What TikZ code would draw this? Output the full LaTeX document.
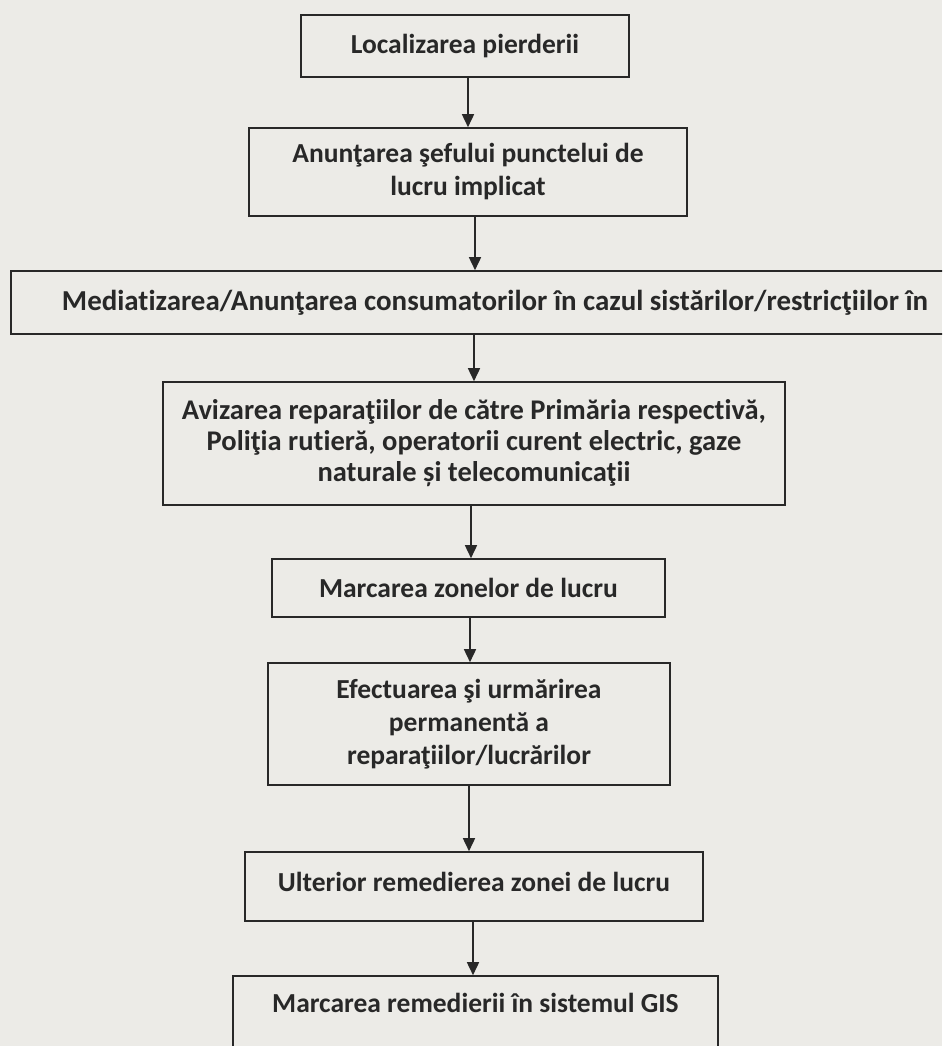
\documentclass[tikz,border=0pt]{standalone}
\usepackage{fontspec}
\setmainfont{Carlito}[Ligatures=NoCommon]
\usetikzlibrary{arrows.meta}
\definecolor{paper}{RGB}{236,235,231}
\definecolor{ink}{RGB}{40,40,40}
\tikzset{
  stepbox/.style={draw=ink, line width=1.6pt, inner sep=0pt, align=center,
    font=\bfseries\fontsize{27.5}{33}\selectfont, text=ink},
  steptext/.style={inner sep=0pt, align=center,
    font=\bfseries\fontsize{27.5}{33}\selectfont, text=ink},
  flow/.style={draw=ink, line width=1.6pt, -{Triangle[length=13pt,width=12pt]}},
}
\begin{document}
\begin{tikzpicture}[x=1pt,y=-1pt]
\useasboundingbox (0,0) rectangle (942,1046);
\clip (0,0) rectangle (942,1046);
\fill[paper] (0,0) rectangle (942,1046);

% process steps
\node[stepbox, minimum width=328, minimum height=62] (b1) at (465,46)
  {Localizarea pierderii};
\node[stepbox, minimum width=438, minimum height=88] (b2) at (468,172)
  {Anunţarea şefului punctelui de\\lucru implicat};
\node[stepbox, minimum width=969, minimum height=63] (b3) at (495.5,302.5) {};
\node[steptext] (t3) at (495,303)
  {\resizebox{866pt}{!}{Mediatizarea/Anunţarea consumatorilor în cazul sistărilor/restricţiilor în}};
\node[stepbox, minimum width=622, minimum height=123,
      font=\bfseries\fontsize{28.5}{31}\selectfont] (b4) at (474,443.5)
  {Avizarea reparaţiilor de către Primăria respectivă,\\
   Poliţia rutieră, operatorii curent electric, gaze\\
   naturale și telecomunicaţii};
\node[stepbox, minimum width=393, minimum height=58] (b5) at (468.5,588)
  {Marcarea zonelor de lucru};
\node[stepbox, minimum width=402, minimum height=122] (b6) at (469,724)
  {Efectuarea şi urmărirea\\permanentă a\\reparaţiilor/lucrărilor};
\node[stepbox, minimum width=458, minimum height=69] (b7) at (474,886.5) {};
\node[steptext] (t7) at (474,882) {Ulterior remedierea zonei de lucru};
\node[stepbox, minimum width=485, minimum height=100] (b8) at (475.5,1026) {};
\node[steptext] (t8) at (475.5,1003) {Marcarea remedierii în sistemul GIS};

% connectors
\draw[flow] (b1.south -| 468,0) -- (b2.north -| 468,0);
\draw[flow] (b2.south -| 475,0) -- (b3.north -| 475,0);
\draw[flow] (b3.south -| 474,0) -- (b4.north -| 474,0);
\draw[flow] (b4.south -| 471,0) -- (b5.north -| 471,0);
\draw[flow] (b5.south -| 470,0) -- (b6.north -| 470,0);
\draw[flow] (b6.south -| 469,0) -- (b7.north -| 469,0);
\draw[flow] (b7.south -| 473,0) -- (b8.north -| 473,0);
\end{tikzpicture}
\end{document}
